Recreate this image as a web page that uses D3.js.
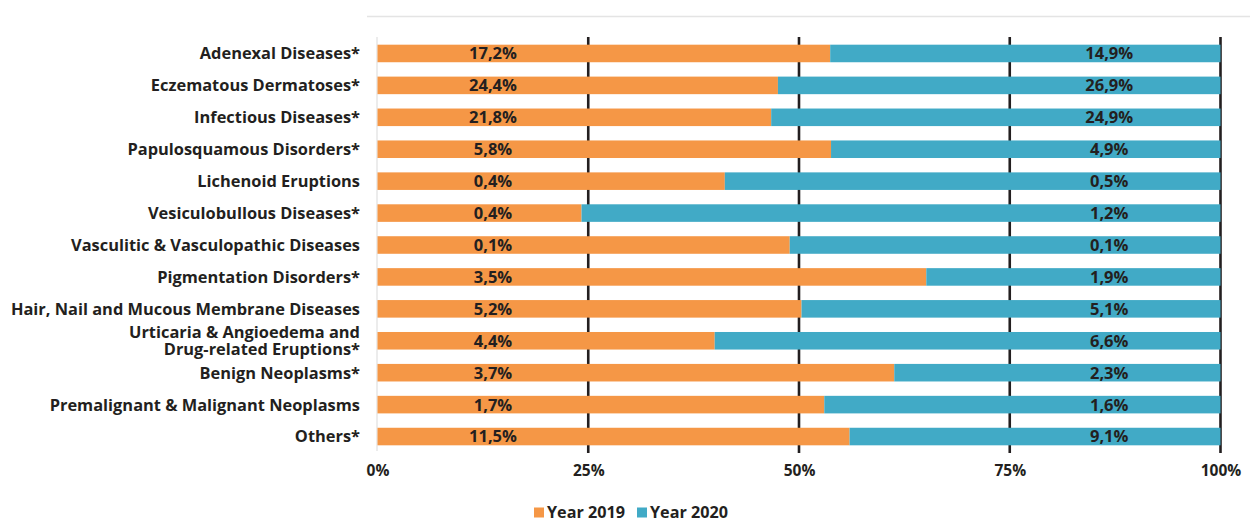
<!DOCTYPE html>
<html>
<head>
<meta charset="utf-8">
<script src="https://cdn.jsdelivr.net/npm/d3@7"></script>
<style>
  html, body { margin: 0; padding: 0; background: #ffffff; }
  svg { display: block; }
  text { font-family: "Open Sans", "DejaVu Sans", sans-serif; font-weight: 700; fill: #231f20; }
</style>
</head>
<body>
<svg id="chart" width="1250" height="526"></svg>
<script>
// ---- Data ----
const categories = [
  "Adenexal Diseases*",
  "Eczematous Dermatoses*",
  "Infectious Diseases*",
  "Papulosquamous Disorders*",
  "Lichenoid Eruptions",
  "Vesiculobullous Diseases*",
  "Vasculitic & Vasculopathic Diseases",
  "Pigmentation Disorders*",
  "Hair, Nail and Mucous Membrane Diseases",
  "Urticaria & Angioedema and|Drug-related Eruptions*",
  "Benign Neoplasms*",
  "Premalignant & Malignant Neoplasms",
  "Others*"
];
// share of the bar belonging to each year (percent of 100)
const share2019 = [53.7, 47.5, 46.7, 53.8, 41.2, 24.2, 48.9, 65.1, 50.3, 40.0, 61.3, 53.0, 56.0];
const share2020 = share2019.map(v => +(100 - v).toFixed(1));
// printed labels (percent of each year's total)
const label2019 = ["17,2%", "24,4%", "21,8%", "5,8%", "0,4%", "0,4%", "0,1%", "3,5%", "5,2%", "4,4%", "3,7%", "1,7%", "11,5%"];
const label2020 = ["14,9%", "26,9%", "24,9%", "4,9%", "0,5%", "1,2%", "0,1%", "1,9%", "5,1%", "6,6%", "2,3%", "1,6%", "9,1%"];
const xTicks = [0, 25, 50, 75, 100];
const seriesNames = ["Year 2019", "Year 2020"];
const colors = ["#F59746", "#41AAC6"];

// ---- Layout ----
const svg = d3.select("#chart");
const x = d3.scaleLinear().domain([0, 100]).range([377.5, 1220.5]);
const y = d3.scaleBand().domain(categories).range([37.5, 452.5]).paddingInner(0.45).paddingOuter(0.225);

// top rule
svg.append("line")
  .attr("x1", 367).attr("x2", 1250).attr("y1", 16.5).attr("y2", 16.5)
  .attr("stroke", "#e4e4e4").attr("stroke-width", 1.5);

// left light axis
svg.append("line")
  .attr("x1", 377).attr("x2", 377).attr("y1", 37).attr("y2", 451)
  .attr("stroke", "#e0e0e0").attr("stroke-width", 1.2);

// vertical grid lines
svg.append("g").selectAll("line")
  .data(xTicks.filter(d => d > 0))
  .join("line")
  .attr("x1", d => x(d)).attr("x2", d => x(d))
  .attr("y1", 37).attr("y2", 453)
  .attr("stroke", "#231f20").attr("stroke-width", 2.6);

// stacked data
const rows = categories.map((c, i) => ({ cat: c, a: share2019[i], b: share2020[i], la: label2019[i], lb: label2020[i] }));
const stack = d3.stack().keys(["a", "b"])(rows);

svg.append("g").selectAll("g")
  .data(stack)
  .join("g")
  .attr("fill", (d, i) => colors[i])
  .selectAll("rect")
  .data(d => d)
  .join("rect")
  .attr("x", d => x(d[0]))
  .attr("width", d => x(d[1]) - x(d[0]))
  .attr("y", d => y(d.data.cat))
  .attr("height", y.bandwidth());

// value labels
const lblG = svg.append("g").attr("font-size", 16.5);
lblG.selectAll("text.l19")
  .data(rows)
  .join("text")
  .attr("class", "l19")
  .attr("x", x(13.7))
  .attr("y", d => y(d.cat) + y.bandwidth() / 2)
  .attr("dy", "0.36em")
  .attr("text-anchor", "middle")
  .text(d => d.la);
lblG.selectAll("text.l20")
  .data(rows)
  .join("text")
  .attr("class", "l20")
  .attr("x", x(86.8))
  .attr("y", d => y(d.cat) + y.bandwidth() / 2)
  .attr("dy", "0.36em")
  .attr("text-anchor", "middle")
  .text(d => d.lb);

// category labels
const catG = svg.append("g").attr("font-size", 16.4);
rows.forEach(d => {
  const parts = d.cat.split("|");
  const cy = y(d.cat) + y.bandwidth() / 2;
  const t = catG.append("text")
    .attr("x", 360)
    .attr("text-anchor", "end");
  parts.forEach((p, k) => {
    t.append("tspan")
      .attr("x", 360)
      .attr("y", cy + (k - (parts.length - 1) / 2) * 17.5)
      .attr("dy", "0.36em")
      .text(p);
  });
});

// x axis (tick labels only)
const xAxis = d3.axisBottom(x).tickValues(xTicks).tickFormat(d => d + "%").tickSize(0).tickPadding(0);
const ax = svg.append("g").attr("transform", "translate(0,465)").call(xAxis);
ax.select(".domain").remove();
ax.selectAll("text").attr("font-size", 15.5).attr("font-family", null).attr("fill", "#231f20").attr("dy", "0.71em");

// legend
const legend = svg.append("g").attr("font-size", 16.2);
const legendX = [534, 637];
seriesNames.forEach((s, i) => {
  legend.append("rect")
    .attr("x", legendX[i]).attr("y", 507.5)
    .attr("width", 10).attr("height", 10)
    .attr("fill", colors[i]);
  legend.append("text")
    .attr("x", legendX[i] + 13).attr("y", 517.5)
    .text(s);
});
</script>
</body>
</html>
